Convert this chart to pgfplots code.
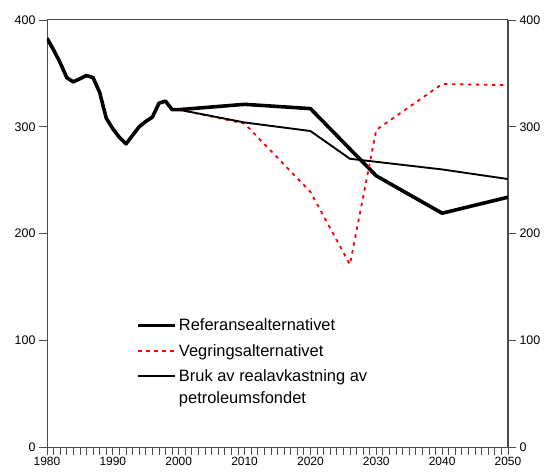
\documentclass[border=0pt]{standalone}
\usepackage{pgfplots}
\pgfplotsset{compat=1.18}
\usepackage{fontspec}
\setmainfont{Liberation Sans}
\begin{document}
\begin{tikzpicture}
\begin{axis}[
  at={(0,0)}, anchor=south west,
  scale only axis, width=461bp, height=427bp,
  xmin=1980, xmax=2050, ymin=0, ymax=400,
  xtick={1980,1990,...,2050}, minor x tick num=9,
  ytick={0,100,...,400},
  tick align=outside, xtick pos=bottom, ytick pos=both,
  major tick length=8bp, minor tick length=8bp,
  axis line style={draw=black!70, line width=1pt},
  every tick/.style={draw=black!70, line width=0.8pt},
  minor tick style={draw=black!70, line width=0.8pt},
  xticklabel style={font=\fontsize{12}{14}\selectfont, yshift=1bp},
  yticklabel style={font=\fontsize{12.5}{14}\selectfont},
  /pgf/number format/assume math mode=true,
  /pgf/number format/1000 sep={},
  legend cell align=left,
  legend style={draw=none, fill=none, at={(0.187,0.31)}, anchor=north west,
    font=\fontsize{16.5}{22}\selectfont, cells={align=left},
    row sep=8bp},
  legend image code/.code={\draw[#1] (0bp,0bp) -- (32bp,0bp);\path (0bp,0bp) -- (37bp,0bp);},
]
\addplot[black, line width=3.6pt, line join=round] coordinates {
(1980,383)(1981,372)(1982,360)(1983,346)(1984,342)(1985,345)(1986,348)(1987,346)
(1988,332)(1989,308)(1990,298)(1991,290)(1992,284)(1993,292)(1994,300)(1995,305)
(1996,309)(1997,322)(1998,324)(1999,316)(2000,316)(2010,321)(2020,317)(2030,254)
(2040,219)(2050,234)};
\addlegendentry{Referansealternativet}
\addplot[red, line width=1.8pt, dash pattern=on 3.5bp off 4.5bp] coordinates {
(2000,316)(2010,303)(2020,239)(2026,171)(2030,297)(2040,340)(2050,339)};
\addlegendentry{Vegringsalternativet}
\addplot[black, line width=1.9pt, line join=round,
  legend image post style={yshift=11bp}] coordinates {
(2000,316)(2010,304)(2020,296)(2026,270)(2040,260)(2050,251)};
\addlegendentry{Bruk av realavkastning av\\petroleumsfondet}
\end{axis}
\begin{axis}[
  at={(0,0)}, anchor=south west,
  scale only axis, width=461bp, height=427bp,
  xmin=1980, xmax=2050, ymin=0, ymax=400,
  axis x line=none, axis y line*=right,
  ytick={0,100,...,400}, tick align=outside,
  major tick length=8bp,
  axis line style={draw=black!70, line width=1pt},
  every tick/.style={draw=black!70, line width=0.8pt},
  yticklabel style={font=\fontsize{12.5}{14}\selectfont},
  /pgf/number format/assume math mode=true,
]
\addplot[draw=none] coordinates {(1980,0)};
\end{axis}
\pgfresetboundingbox
\path (-47bp,-28bp) rectangle (498bp,447bp);
\end{tikzpicture}
\end{document}
